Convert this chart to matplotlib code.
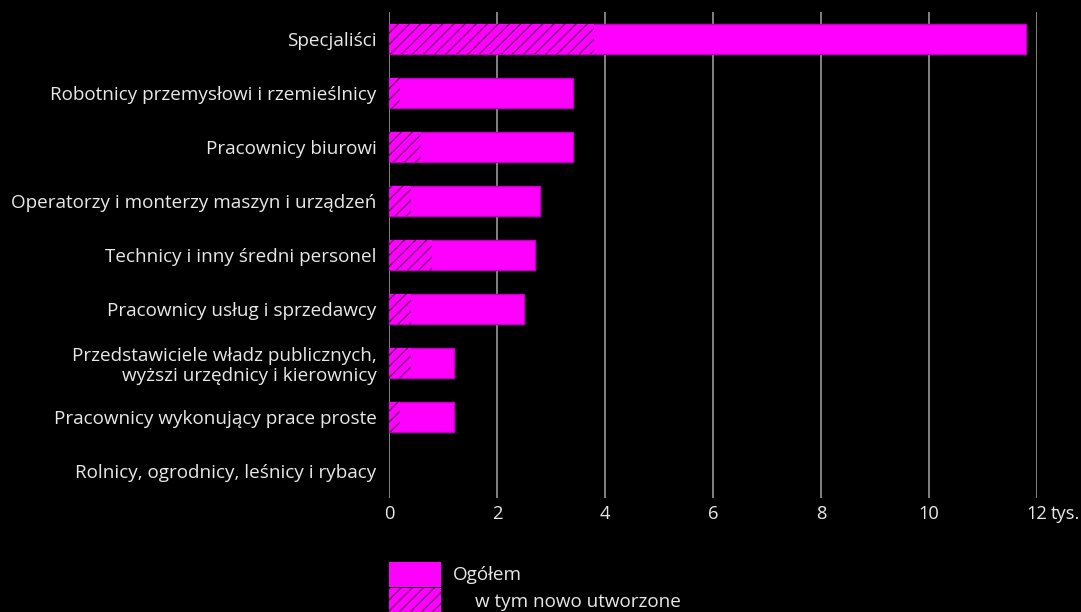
import matplotlib
matplotlib.use("Agg")
import matplotlib.pyplot as plt
from matplotlib.patches import Rectangle
from matplotlib.transforms import blended_transform_factory, offset_copy

categories = [
    "Specjaliści",
    "Robotnicy przemysłowi i rzemieślnicy",
    "Pracownicy biurowi",
    "Operatorzy i monterzy maszyn i urządzeń",
    "Technicy i inny średni personel",
    "Pracownicy usług i sprzedawcy",
    "Przedstawiciele władz publicznych,\nwyższi urzędnicy i kierownicy",
    "Pracownicy wykonujący prace proste",
    "Rolnicy, ogrodnicy, leśnicy i rybacy",
]
total = [11.8, 3.4, 3.4, 2.8, 2.7, 2.5, 1.2, 1.2, 0.0]
new_created = [3.8, 0.2, 0.6, 0.4, 0.8, 0.4, 0.4, 0.2, 0.0]
xticks = [0, 2, 4, 6, 8, 10, 12]
xtick_labels = ["0", "2", "4", "6", "8", "10", "12"]
unit_label = "tys."
legend_labels = ["Ogółem", "w tym nowo utworzone"]

MAGENTA = "#ff00ff"
EDGE = "#c000c0"
HATCH = "#7a0a7a"
TEXT = "#e8e8e8"
GRID = "#8c8c8c"
FS = 13.6
FS_X = 13.2

plt.rcParams["font.family"] = ["Open Sans", "DejaVu Sans"]
plt.rcParams["hatch.linewidth"] = 1.0

W, H = 1081, 612
fig = plt.figure(figsize=(W / 100, H / 100), dpi=100, facecolor="black")
ax = fig.add_axes([389 / W, 1 - 498 / H, (1037 - 389) / W, (498 - 12) / H])
ax.set_facecolor("black")

y = list(range(len(categories)))
lw = [1 if v > 0 else 0 for v in total]
ax.barh(y, total, height=0.56, color=MAGENTA, edgecolor=EDGE, linewidth=lw, zorder=3)
ax.barh(y, new_created, height=0.56, color=MAGENTA, edgecolor=HATCH, hatch="///",
        linewidth=0, zorder=4)

ax.set_xlim(0, 12)
ax.set_ylim(len(categories) - 0.5, -0.5)
ax.set_xticks(xticks)
ax.set_xticklabels(xtick_labels)
ax.set_yticks(y)
ax.set_yticklabels(categories, ha="right", linespacing=1.15)
ax.tick_params(axis="x", length=0, labelcolor=TEXT, labelsize=FS_X, pad=5)
ax.tick_params(axis="y", length=0, labelcolor=TEXT, labelsize=FS, pad=9)
ax.grid(axis="x", color=GRID, linewidth=1.3, zorder=0)
for s in ["top", "right", "bottom", "left"]:
    ax.spines[s].set_visible(False)

# unit after last tick label
tr = offset_copy(blended_transform_factory(ax.transData, ax.transAxes), fig=fig, x=10, y=-5, units="points")
ax.text(xticks[-1], 0, unit_label, transform=tr, color=TEXT, fontsize=FS_X, ha="left", va="top")

# legend
def px(x0, y0, w, h):
    return (x0 / W, 1 - (y0 + h) / H), w / W, h / H

xy, w, h = px(389, 562, 52, 25)
fig.add_artist(Rectangle(xy, w, h, transform=fig.transFigure, facecolor=MAGENTA, edgecolor="none"))
xy, w, h = px(389, 588, 52, 26)
fig.add_artist(Rectangle(xy, w, h, transform=fig.transFigure, facecolor=MAGENTA,
                         edgecolor=HATCH, hatch="///", linewidth=0))
fig.text(453 / W, 1 - 575 / H, legend_labels[0], color=TEXT, fontsize=FS, va="center", ha="left")
fig.text(475 / W, 1 - 602 / H, legend_labels[1], color=TEXT, fontsize=FS, va="center", ha="left")

fig.savefig("out.png", dpi=100, facecolor="black")
